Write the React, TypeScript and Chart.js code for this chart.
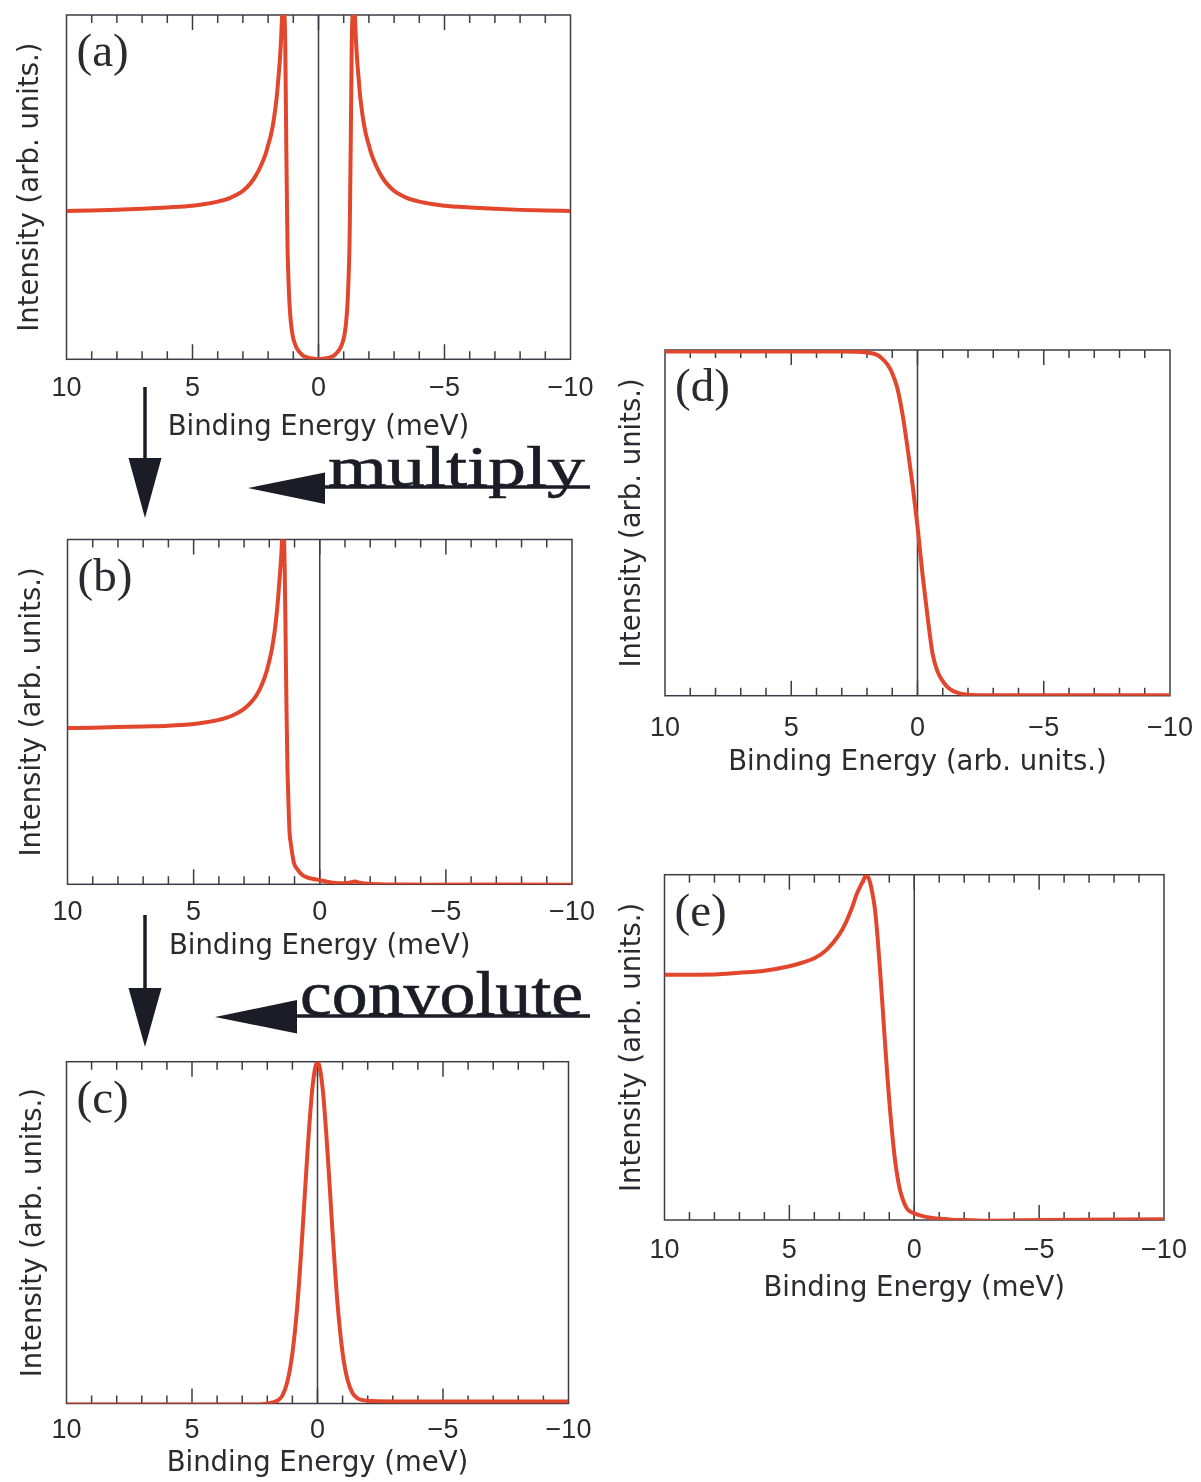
import React, { useEffect, useRef } from 'react';
import { Chart, registerables } from 'chart.js';

Chart.register(...registerables);

// ---------- data ----------
const xMin = -10;
const xMax = 10;
const xTickStep = 5;
const yAxisTitle = 'Intensity (arb. units.)';
const xTitleMeV = 'Binding Energy (meV)';
const xTitleArb = 'Binding Energy (arb. units.)';

// (a) BCS-like density of states
const energyA = [
  10, 9, 8, 7, 6, 5, 4.5, 4, 3.5, 3, 2.7, 2.5, 2.3, 2.1, 2.0, 1.9, 1.8, 1.72, 1.65, 1.59, 1.53, 1.48, 1.45,
  1.42, 1.39, 1.36, 1.32, 1.3, 1.28, 1.25, 1.23, 1.2, 1.15, 1.1, 1.05, 1.0, 0.9, 0.8, 0.7, 0.6, 0.5, 0.4,
  0.3, 0.2, 0.1, 0, -0.1, -0.2, -0.3, -0.4, -0.5, -0.6, -0.7, -0.8, -0.9, -1.0, -1.05, -1.1, -1.15, -1.2,
  -1.23, -1.25, -1.28, -1.3, -1.32, -1.36, -1.39, -1.42, -1.45, -1.48, -1.53, -1.59, -1.65, -1.72, -1.8,
  -1.9, -2.0, -2.1, -2.3, -2.5, -2.7, -3, -3.5, -4, -4.5, -5, -6, -7, -8, -9, -10,
];
const intensityA = [
  0.431, 0.432, 0.434, 0.437, 0.441, 0.446, 0.451, 0.458, 0.469, 0.489, 0.511, 0.532, 0.56, 0.596, 0.622,
  0.648, 0.684, 0.724, 0.767, 0.818, 0.873, 0.937, 0.99, 1.05, 1.07, 1.02, 0.92, 0.78, 0.63, 0.44, 0.33,
  0.25, 0.16, 0.11, 0.08, 0.06, 0.038, 0.025, 0.017, 0.01, 0.007, 0.004, 0.003, 0.002, 0.001, 0.001, 0.001,
  0.002, 0.003, 0.004, 0.007, 0.01, 0.017, 0.025, 0.038, 0.06, 0.08, 0.11, 0.16, 0.25, 0.33, 0.44, 0.63,
  0.78, 0.92, 1.02, 1.07, 1.05, 0.99, 0.937, 0.873, 0.818, 0.767, 0.724, 0.684, 0.648, 0.622, 0.596, 0.56,
  0.532, 0.511, 0.489, 0.469, 0.458, 0.451, 0.446, 0.441, 0.437, 0.434, 0.432, 0.431,
];

// (b) DOS multiplied by the Fermi function
const energyB = [
  10, 9, 8, 7, 6, 5, 4.5, 4, 3.5, 3, 2.7, 2.5, 2.3, 2.1, 2.0, 1.9, 1.8, 1.74, 1.66, 1.58, 1.52, 1.48, 1.44,
  1.42, 1.39, 1.36, 1.34, 1.31, 1.28, 1.25, 1.22, 1.19, 1.15, 1.1, 1.02, 0.9, 0.69, 0.5, 0.3, 0, -0.4, -0.8,
  -1.1, -1.3, -1.41, -1.55, -1.8, -2.5, -4, -10,
];
const intensityB = [
  0.453, 0.454, 0.456, 0.458, 0.46, 0.465, 0.47, 0.477, 0.488, 0.509, 0.53, 0.549, 0.578, 0.619, 0.648,
  0.681, 0.727, 0.762, 0.822, 0.897, 0.96, 1.02, 1.05, 1.03, 0.916, 0.76, 0.626, 0.47, 0.336, 0.26, 0.19,
  0.143, 0.12, 0.093, 0.061, 0.045, 0.027, 0.02, 0.016, 0.012, 0.006, 0.003, 0.004, 0.007, 0.008, 0.005,
  0.002, 0.0, -0.001, -0.001,
];

// (c) resolution (Gaussian) function
const energyC = [
  10, 5, 3, 2.2, 2, 1.8, 1.6, 1.4, 1.2, 1.0, 0.8, 0.6, 0.4, 0.2, 0, -0.2, -0.4, -0.6, -0.8, -1.0, -1.2, -1.4,
  -1.6, -1.8, -2, -2.2, -3, -5, -10,
];
const intensityC = [
  -0.003, -0.003, -0.003, -0.002, 0.0, 0.003, 0.008, 0.023, 0.064, 0.147, 0.29, 0.5, 0.735, 0.925, 1.0, 0.925,
  0.735, 0.5, 0.29, 0.148, 0.068, 0.03, 0.015, 0.01, 0.008, 0.007, 0.006, 0.006, 0.006,
];

// (d) Fermi-Dirac distribution
const energyD = [
  10, 5, 3, 2, 1.6, 1.4, 1.2, 1.0, 0.8, 0.6, 0.4, 0.2, 0, -0.2, -0.4, -0.6, -0.8, -1.0, -1.2, -1.4, -1.7, -2,
  -3, -10,
];
const intensityD = [
  0.996, 0.996, 0.996, 0.993, 0.986, 0.975, 0.959, 0.933, 0.89, 0.817, 0.72, 0.612, 0.49, 0.35, 0.228, 0.12,
  0.069, 0.042, 0.024, 0.014, 0.006, 0.003, 0.001, 0.001,
];

// (e) convoluted spectrum
const energyE = [
  10, 8, 7, 6, 5, 4.5, 4, 3.5, 3, 2.75, 2.5, 2.29, 2.1, 2.0, 1.92, 1.8, 1.7, 1.57, 1.47, 1.37, 1.27, 1.17,
  1.07, 0.97, 0.87, 0.77, 0.67, 0.57, 0.45, 0.3, 0.15, 0, -0.3, -0.6, -1.0, -1.5, -2, -3, -5, -10,
];
const intensityE = [
  0.71, 0.711, 0.716, 0.722, 0.735, 0.745, 0.758, 0.783, 0.827, 0.86, 0.903, 0.946, 0.975, 0.99, 0.996,
  0.985, 0.955, 0.898, 0.82, 0.724, 0.62, 0.512, 0.41, 0.319, 0.24, 0.174, 0.124, 0.087, 0.058, 0.034,
  0.024, 0.019, 0.012, 0.007, 0.004, 0.001, 0.0, -0.002, 0.0, 0.002,
];

// ---------- styles ----------
const CURVE_COLOR = '#e2462c';
const FRAME_COLOR = '#3c3c44';
const TEXT_COLOR = '#2a2a30';
const TICK_FONT_SIZE = 27;
const TITLE_FONT_SIZE = 27.5;
const TICK_FONT = { family: '"Liberation Sans", Arial, sans-serif', size: TICK_FONT_SIZE, lineHeight: 1.2 };
const TITLE_FONT = { family: '"DejaVu Sans", sans-serif', size: TITLE_FONT_SIZE, lineHeight: 1.2 };

type Box = { left: number; top: number; width: number; height: number };
type Plot = { l: number; r: number; t: number; b: number };
type PanelSpec = {
  id: string;
  label: string;
  xTitle: string;
  energy: number[];
  intensity: number[];
  canvas: Box;
  plot: Plot;
  tickMid: number;
  xTitleMid: number;
  yTitleMid: number;
};

const panels: PanelSpec[] = [
  {
    id: 'a', label: '(a)', xTitle: xTitleMeV, energy: energyA, intensity: intensityA,
    canvas: { left: 0, top: 0, width: 630, height: 450 },
    plot: { l: 66.5, r: 570.5, t: 15, b: 359.3 },
    tickMid: 389, xTitleMid: 428, yTitleMid: 31,
  },
  {
    id: 'b', label: '(b)', xTitle: xTitleMeV, energy: energyB, intensity: intensityB,
    canvas: { left: 0, top: 500, width: 630, height: 470 },
    plot: { l: 67.5, r: 572, t: 539.5, b: 884.3 },
    tickMid: 913, xTitleMid: 947, yTitleMid: 33,
  },
  {
    id: 'c', label: '(c)', xTitle: xTitleMeV, energy: energyC, intensity: intensityC,
    canvas: { left: 0, top: 1030, width: 630, height: 452 },
    plot: { l: 66.5, r: 568.5, t: 1061.7, b: 1403.5 },
    tickMid: 1430.5, xTitleMid: 1464, yTitleMid: 34,
  },
  {
    id: 'd', label: '(d)', xTitle: xTitleArb, energy: energyD, intensity: intensityD,
    canvas: { left: 600, top: 330, width: 640, height: 460 },
    plot: { l: 665, r: 1170, t: 350, b: 695.7 },
    tickMid: 728.5, xTitleMid: 763, yTitleMid: 633,
  },
  {
    id: 'e', label: '(e)', xTitle: xTitleMeV, energy: energyE, intensity: intensityE,
    canvas: { left: 600, top: 850, width: 640, height: 470 },
    plot: { l: 664.5, r: 1164, t: 874.7, b: 1220 },
    tickMid: 1250.5, xTitleMid: 1288.5, yTitleMid: 633,
  },
];

const framePlugin = {
  id: 'frame',
  beforeDatasetsDraw(chart: any) {
    const { ctx, chartArea: a, scales } = chart;
    const xs = scales.x;
    ctx.save();
    ctx.strokeStyle = FRAME_COLOR;
    ctx.lineWidth = 1.5;
    for (let v = xMin + 1; v < xMax; v++) {
      const px = xs.getPixelForValue(v);
      const len = v % xTickStep === 0 ? 15 : 8;
      ctx.beginPath();
      ctx.moveTo(px, a.bottom);
      ctx.lineTo(px, a.bottom - len);
      ctx.moveTo(px, a.top);
      ctx.lineTo(px, a.top + len);
      ctx.stroke();
    }
    const z = xs.getPixelForValue(0);
    ctx.beginPath();
    ctx.moveTo(z, a.top);
    ctx.lineTo(z, a.bottom);
    ctx.stroke();
    ctx.strokeRect(a.left, a.top, a.right - a.left, a.bottom - a.top);
    ctx.restore();
  },
  afterDatasetsDraw(chart: any, _args: any, opts: any) {
    const { ctx, chartArea: a } = chart;
    ctx.save();
    ctx.fillStyle = TEXT_COLOR;
    ctx.font = '47px "Liberation Serif", "Times New Roman", serif';
    ctx.textBaseline = 'alphabetic';
    ctx.textAlign = 'left';
    ctx.fillText(opts.label, a.left + 10, a.top + 51);
    ctx.restore();
  },
};

function formatTick(v: number | string) {
  const n = Number(v);
  return n < 0 ? '\u2212' + Math.abs(n) : String(n);
}

function Panel({ spec }: { spec: PanelSpec }) {
  const ref = useRef<HTMLCanvasElement | null>(null);
  useEffect(() => {
    if (!ref.current) return;
    const { canvas: c, plot: p } = spec;
    const tickLH = TICK_FONT_SIZE * 1.2;
    const titleLH = TITLE_FONT_SIZE * 1.2;
    const yAxisW = p.l - c.left;
    const xAxisH = c.top + c.height - p.b;
    const chart = new Chart(ref.current, {
      type: 'line',
      data: {
        datasets: [
          {
            data: spec.energy.map((e, i) => ({ x: e, y: spec.intensity[i] })),
            borderColor: CURVE_COLOR,
            borderWidth: 4,
            pointRadius: 0,
            fill: false,
            cubicInterpolationMode: 'monotone',
          },
        ],
      },
      options: {
        responsive: false,
        animation: false,
        events: [],
        layout: {
          padding: { left: 0, top: p.t - c.top, right: c.left + c.width - p.r, bottom: 0 },
        },
        plugins: {
          legend: { display: false },
          tooltip: { enabled: false },
          frame: { label: spec.label },
        } as any,
        scales: {
          x: {
            type: 'linear',
            min: xMin,
            max: xMax,
            reverse: true,
            grid: { display: false, drawTicks: false },
            border: { display: false },
            ticks: {
              stepSize: xTickStep,
              autoSkip: false,
              maxRotation: 0,
              minRotation: 0,
              padding: spec.tickMid - p.b - tickLH / 2,
              font: TICK_FONT,
              color: TEXT_COLOR,
              callback: (v: any) => formatTick(v),
            },
            title: {
              display: true,
              text: spec.xTitle,
              font: TITLE_FONT,
              color: TEXT_COLOR,
              padding: { top: 0, bottom: c.top + c.height - spec.xTitleMid - titleLH / 2 },
            },
            afterFit: (s: any) => {
              s.height = xAxisH;
            },
          },
          y: {
            type: 'linear',
            min: 0,
            max: 1,
            grid: { display: false, drawTicks: false },
            border: { display: false },
            ticks: { display: false },
            title: {
              display: true,
              text: yAxisTitle,
              font: TITLE_FONT,
              color: TEXT_COLOR,
              padding: { top: spec.yTitleMid - c.left - titleLH / 2, bottom: 0 },
            },
            afterFit: (s: any) => {
              s.width = yAxisW;
            },
          },
        },
      } as any,
      plugins: [framePlugin],
    });
    return () => chart.destroy();
  }, [spec]);
  const c = spec.canvas;
  return (
    <canvas
      ref={ref}
      width={c.width}
      height={c.height}
      style={{ position: 'absolute', left: c.left, top: c.top, width: c.width, height: c.height }}
    />
  );
}

const ARROW = '#1c1c26';

export default function App() {
  return (
    <div style={{ position: 'absolute', left: 0, top: 0, width: 1201, height: 1482, background: '#ffffff', overflow: 'hidden' }}>
      {panels.map((s) => (
        <Panel key={s.id} spec={s} />
      ))}
      <svg
        width={1201}
        height={1482}
        style={{ position: 'absolute', left: 0, top: 0, pointerEvents: 'none' }}
      >
        {/* down arrows */}
        <line x1={145} y1={387} x2={145} y2={462} stroke={ARROW} strokeWidth={3.5} />
        <polygon points="128.5,458 161.5,458 145,518" fill={ARROW} />
        <line x1={145} y1={915} x2={145} y2={992} stroke={ARROW} strokeWidth={3.5} />
        <polygon points="128.5,988 161.5,988 145,1047" fill={ARROW} />
        {/* multiply */}
        <text
          x={328}
          y={486}
          fontFamily='"Liberation Serif", "Times New Roman", serif'
          fontSize={58}
          fill={ARROW}
          stroke={ARROW}
          strokeWidth={0.6}
          textLength={257}
          lengthAdjust="spacingAndGlyphs"
        >
          multiply
        </text>
        <polygon points="248,488 325,472.5 325,504" fill={ARROW} />
        <line x1={322} y1={487} x2={590} y2={487} stroke={ARROW} strokeWidth={3.5} />
        {/* convolute */}
        <text
          x={300}
          y={1015}
          fontFamily='"Liberation Serif", "Times New Roman", serif'
          fontSize={64}
          fill={ARROW}
          stroke={ARROW}
          strokeWidth={0.6}
          textLength={283}
          lengthAdjust="spacingAndGlyphs"
        >
          convolute
        </text>
        <polygon points="215,1017 297,1000 297,1033.5" fill={ARROW} />
        <line x1={294} y1={1016} x2={590} y2={1016} stroke={ARROW} strokeWidth={3.5} />
      </svg>
    </div>
  );
}
